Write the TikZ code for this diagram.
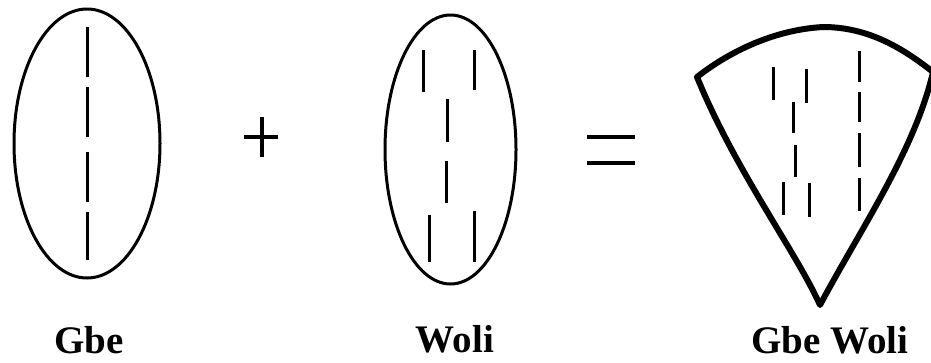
\documentclass[tikz,border=0pt]{standalone}
\usepackage{fontspec}
\setmainfont{Liberation Serif}
\usetikzlibrary{shapes.geometric}
\begin{document}
\begin{tikzpicture}[x=1pt,y=-1pt,
  outline/.style={draw=black,line width=3pt},
  stroke/.style={draw=black,line width=3pt},
  opsign/.style={draw=black,line width=4pt},
  fanline/.style={draw=black,line width=6pt,line join=round},
  label/.style={font=\fontsize{39}{42}\selectfont\bfseries,anchor=base,inner sep=0pt,text depth=0pt}]
\useasboundingbox[fill=white] (0,0) rectangle (931,362);
% Gbe
\node[outline,ellipse,minimum width=146pt,minimum height=269pt,inner sep=0pt] (gbe) at (87,143.5) {};
\foreach \a/\b in {27/77,87/137,152/202,212/260}
  \draw[stroke] (87,\a) -- (87,\b);
\node[label] (lgbe) at (89,353) {Gbe};
% plus
\coordinate (pc) at (262,137);
\draw[opsign] ([xshift=-18pt]pc) -- ([xshift=16pt]pc);
\draw[opsign] ([yshift=-20pt]pc) -- ([yshift=20pt]pc);
% Woli
\node[outline,ellipse,minimum width=131pt,minimum height=269pt,inner sep=0pt] (woli) at (450.5,149.5) {};
\draw[stroke] (423,50) -- (423,92);
\draw[stroke] (474,50) -- (474,90);
\draw[stroke] (447,99) -- (447,142);
\draw[stroke] (446,161) -- (446,203);
\draw[stroke] (429,215) -- (429,262);
\draw[stroke] (474,211) -- (474,262);
\node[label] (lwoli) at (455,352) {Woli};
% equals
\coordinate (ec) at (611,150);
\draw[opsign] ([shift={(-24pt,-13pt)}]ec) -- ([shift={(24pt,-13pt)}]ec);
\draw[opsign] ([shift={(-24pt,13pt)}]ec) -- ([shift={(24pt,13pt)}]ec);
% Gbe Woli fan
\coordinate (fl) at (697,77);
\coordinate (ft) at (823,27);
\coordinate (fr) at (933,72);
\coordinate (fb) at (820,305);
\draw[fanline] (fl) .. controls (725,55) and (770,30) .. (ft)
  .. controls (870,27) and (905,50) .. (fr)
  .. controls (915,150) and (860,230) .. (fb)
  .. controls (795,250) and (735,170) .. cycle;
\draw[stroke] (773,67) -- (773,100);
\draw[stroke] (806,69) -- (806,103);
\draw[stroke] (793,102) -- (793,133);
\draw[stroke] (795,145) -- (795,177);
\draw[stroke] (783,182) -- (783,215);
\draw[stroke] (809,183) -- (809,217);
\foreach \a/\b in {51/82,92/122,133/167,178/211}
  \draw[stroke] (859,\a) -- (859,\b);
\node[label] (lgw) at (830,353) {Gbe Woli};
\end{tikzpicture}
\end{document}
